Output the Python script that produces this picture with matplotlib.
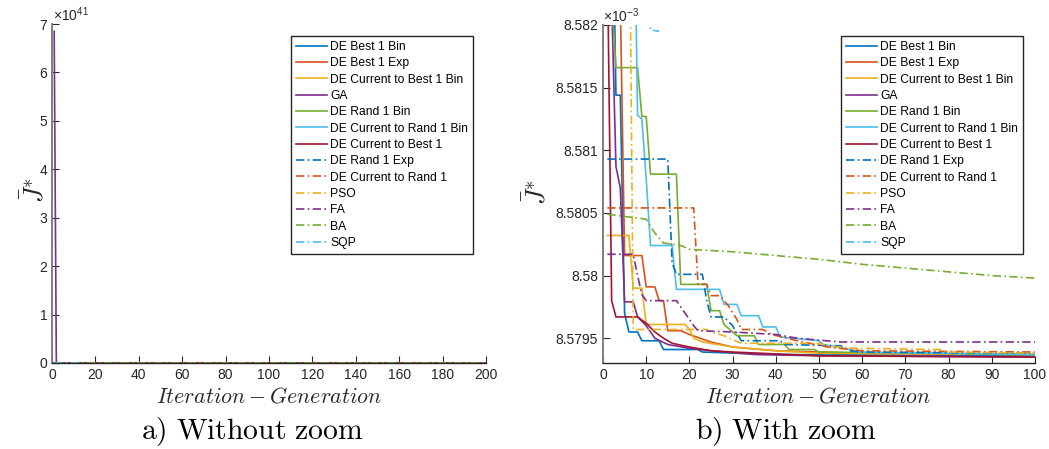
import matplotlib
matplotlib.use('Agg')
import matplotlib.pyplot as plt

plt.rcParams['font.family'] = ['Liberation Sans', 'DejaVu Sans']
plt.rcParams['mathtext.fontset'] = 'custom'
plt.rcParams['mathtext.rm'] = 'Liberation Sans'
plt.rcParams['mathtext.it'] = 'Liberation Sans:italic'

# best-so-far J values, in units of 1e-3, as (iteration, value) breakpoints
best1bin = [(1, 8.5845), (2, 8.5835), (3, 8.58144), (4, 8.58144), (5, 8.5797), (6, 8.57955),
            (8, 8.57955), (9, 8.57948), (13, 8.57948), (14, 8.57941), (22, 8.57941),
            (23, 8.57939), (40, 8.57937), (100, 8.57936)]
best1exp = [(1, 8.5840), (4, 8.5822), (5, 8.58016), (9, 8.58016), (10, 8.57991), (12, 8.57991),
            (13, 8.5798), (14, 8.5798), (15, 8.57956), (18, 8.57956), (20, 8.57953),
            (25, 8.57947), (30, 8.57943), (40, 8.5794), (60, 8.57938), (100, 8.57937)]
cur2best1bin = [(1, 8.58032), (6, 8.58032), (7, 8.5799), (9, 8.5799), (10, 8.57961),
                (19, 8.57961), (20, 8.57957), (21, 8.5795), (23, 8.57947), (30, 8.57943),
                (40, 8.5794), (50, 8.57938), (100, 8.57937)]
ga = [(1, 6.85e44), (2, 8.5822), (3, 8.58087), (4, 8.5807), (5, 8.57979), (7, 8.57979),
      (8, 8.57967), (10, 8.5796), (12, 8.5795), (15, 8.57945), (20, 8.57942), (25, 8.5794),
      (35, 8.57937), (50, 8.57936), (100, 8.57935)]
rand1bin = [(1, 8.5835), (2, 8.5822), (3, 8.58166), (8, 8.58166), (9, 8.58127), (10, 8.58127),
            (11, 8.58081), (17, 8.58081), (18, 8.57993), (24, 8.57993), (25, 8.57972),
            (27, 8.57972), (28, 8.57961), (31, 8.57952), (35, 8.57952), (36, 8.57945),
            (42, 8.57945), (43, 8.57941), (49, 8.57941), (50, 8.57939), (100, 8.57937)]
cur2rand1bin = [(1, 8.5845), (7, 8.5836), (8, 8.58128), (9, 8.58125), (10, 8.58077),
                (11, 8.58024), (16, 8.58024), (17, 8.57989), (27, 8.57989), (28, 8.57977),
                (31, 8.57977), (32, 8.57968), (36, 8.57968), (37, 8.57959), (40, 8.57959),
                (41, 8.57951), (50, 8.57948), (51, 8.57945), (57, 8.57941), (60, 8.57939),
                (100, 8.57937)]
cur2best1 = [(1, 8.5826), (2, 8.5798), (3, 8.57967), (8, 8.57967), (10, 8.57962),
             (12, 8.57955), (14, 8.5795), (16, 8.57946), (20, 8.57943), (25, 8.5794),
             (30, 8.57939), (50, 8.57936), (100, 8.57935)]
rand1exp = [(1, 8.58093), (15, 8.58093), (16, 8.5801), (17, 8.58001), (23, 8.58001),
            (24, 8.5798), (25, 8.57967), (28, 8.57967), (30, 8.5796), (32, 8.57948),
            (41, 8.57948), (42, 8.57945), (55, 8.57944), (57, 8.5794), (60, 8.57939),
            (100, 8.57938)]
cur2rand1 = [(1, 8.58054), (21, 8.58054), (22, 8.57993), (24, 8.57993), (25, 8.57984),
             (27, 8.57984), (29, 8.57976), (31, 8.57965), (32, 8.57957), (37, 8.57957),
             (39, 8.57953), (45, 8.57948), (52, 8.57943), (60, 8.5794), (100, 8.57939)]
pso = [(1, 8.5845), (6, 8.5835), (7, 8.57957), (24, 8.57957), (25, 8.57955), (28, 8.57952),
       (32, 8.57946), (50, 8.57946), (52, 8.57944), (58, 8.57942), (78, 8.57941),
       (80, 8.57939), (100, 8.57938)]
fa = [(1, 8.58017), (7, 8.58017), (8, 8.5800), (9, 8.57985), (10, 8.5798), (17, 8.5798),
      (19, 8.5797), (21, 8.5796), (22, 8.57956), (30, 8.57955), (40, 8.57953), (45, 8.5795),
      (55, 8.57947), (100, 8.57947)]
ba = [(1, 8.58049), (10, 8.58045), (12, 8.58034), (14, 8.58026), (18, 8.58024), (20, 8.58021),
      (30, 8.58019), (40, 8.58016), (50, 8.58013), (60, 8.58009), (70, 8.58006),
      (80, 8.58003), (90, 8.5800), (100, 8.57998)]
sqp = [(1, 8.5850), (10, 8.5835), (11, 8.58196), (13, 8.58195)]

series = [best1bin, best1exp, cur2best1bin, ga, rand1bin, cur2rand1bin, cur2best1,
          rand1exp, cur2rand1, pso, fa, ba, sqp]
labels = ['DE Best 1 Bin', 'DE Best 1 Exp', 'DE Current to Best 1 Bin', 'GA', 'DE Rand 1 Bin',
          'DE Current to Rand 1 Bin', 'DE Current to Best 1', 'DE Rand 1 Exp',
          'DE Current to Rand 1', 'PSO', 'FA', 'BA', 'SQP']
colors = ['#0072BD', '#D95319', '#EDB120', '#7E2F8E', '#77AC30', '#4DBEEE', '#A2142F',
          '#0072BD', '#D95319', '#EDB120', '#7E2F8E', '#77AC30', '#4DBEEE']
styles = ['-'] * 7 + [(0, (5, 2, 1, 2))] * 6

W, H = 1049, 449
fig = plt.figure(figsize=(W / 100, H / 100), dpi=100)
ax1 = fig.add_axes([52 / W, 1 - 363 / H, (486 - 52) / W, (363 - 24) / H])
ax2 = fig.add_axes([603 / W, 1 - 363.3 / H, (1035 - 603) / W, (363.3 - 25) / H])

for s, lab, c, ls in zip(series, labels, colors, styles):
    xs = [p[0] for p in s]
    ys = [p[1] for p in s]
    # left panel: full run to 200 iterations, scale 1e41
    xl = xs + ([200] if xs[-1] == 100 else [])
    yl = ys + ([ys[-1]] if xs[-1] == 100 else [])
    ax1.plot(xl, [v * 1e-3 / 1e41 for v in yl], color=c, ls=ls, lw=1.2, label=lab)
    ax2.plot(xs, ys, color=c, ls=ls, lw=1.2, label=lab)

ax1.set_xlim(0, 200)
ax1.set_ylim(0, 7)
ax1.set_xticks(range(0, 201, 20))
ax1.set_yticks(range(0, 8))

ax2.set_xlim(0, 100)
ax2.set_ylim(8.5793, 8.582)
ax2.set_xticks(range(0, 101, 10))
yt = [8.5795, 8.58, 8.5805, 8.581, 8.5815, 8.582]
ax2.set_yticks(yt)
ax2.set_yticklabels(['%g' % v for v in yt])

for ax in (ax1, ax2):
    ax.spines['top'].set_visible(False)
    ax.spines['right'].set_visible(False)
    ax.spines['left'].set_color('#7f7f7f')
    ax.spines['left'].set_linewidth(1.4)
    ax.spines['bottom'].set_color('#262626')
    ax.spines['bottom'].set_linewidth(1.0)
    ax.tick_params(direction='in', length=5, width=0.8, colors='#262626',
                   labelsize=10, labelcolor='#262626')

ax1.text(0.003, 1.0, r'$\times10^{41}$', transform=ax1.transAxes, ha='left', va='bottom',
         fontsize=10, color='#262626')
ax2.text(0.0, 1.0, r'$\times10^{-3}$', transform=ax2.transAxes, ha='left', va='bottom',
         fontsize=10, color='#262626')

leg_kw = dict(loc='upper right', borderaxespad=0, fontsize=8.7, handlelength=2.55,
              handletextpad=0.3, labelspacing=0.36, fancybox=False, framealpha=1,
              edgecolor='#262626', borderpad=0.4)
l1 = ax1.legend(bbox_to_anchor=((473 - 52) / 434, 1 - (36 - 24) / 339), **leg_kw)
l2 = ax2.legend(bbox_to_anchor=((1023 - 603) / 432, 1 - (36 - 25) / 338.3), **leg_kw)
for l in (l1, l2):
    l.get_frame().set_linewidth(1.0)

xl_txt = r'$Iteration - Generation$'
fig.text(269 / W, 1 - 397 / H, xl_txt, ha='center', va='center', fontsize=15.8,
         math_fontfamily='cm', color='#262626')
fig.text(818 / W, 1 - 397 / H, xl_txt, ha='center', va='center', fontsize=15.8,
         math_fontfamily='cm', color='#262626')
fig.text(35 / W, 1 - 190 / H, r'$\bar{J}^{*}$', ha='center', va='center', rotation=90,
         fontsize=19, math_fontfamily='cm', color='#262626')
fig.text(537 / W, 1 - 192 / H, r'$\bar{J}^{*}$', ha='center', va='center', rotation=90,
         fontsize=19, math_fontfamily='cm', color='#262626')
fig.text(252 / W, 1 - 432 / H, r'$\mathrm{a)\ Without\ zoom}$', ha='center', va='center',
         fontsize=21.4, math_fontfamily='cm')
fig.text(786 / W, 1 - 432 / H, r'$\mathrm{b)\ With\ zoom}$', ha='center', va='center',
         fontsize=21.4, math_fontfamily='cm')

fig.savefig('out.png', dpi=100)
